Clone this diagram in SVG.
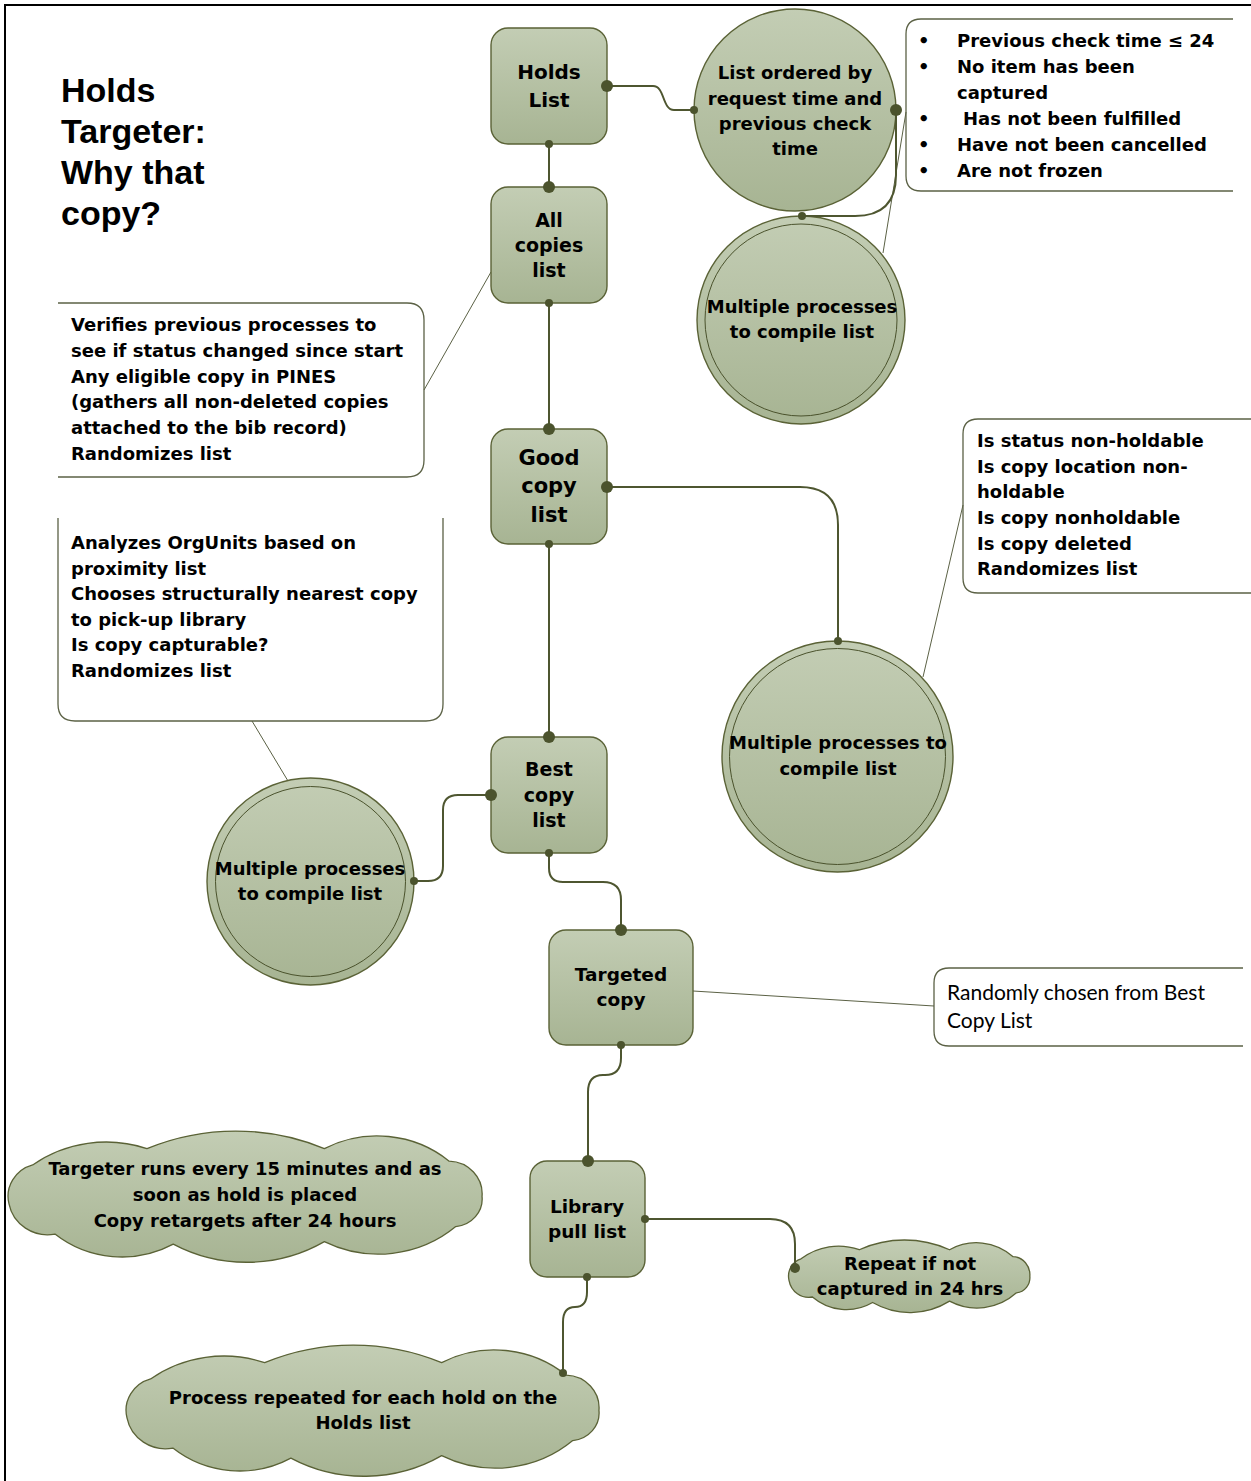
<svg xmlns="http://www.w3.org/2000/svg" xmlns:xlink="http://www.w3.org/1999/xlink" width="1251" height="1481" viewBox="0 0 1251 1481">
<defs>
<linearGradient id="g" x1="0" y1="0" x2="0" y2="1">
<stop offset="0" stop-color="#C3CDB4"/>
<stop offset="1" stop-color="#A7B493"/>
</linearGradient>
<path id="cloud" d="M0,58 A26,26 0 0 1 18,27 A95,95 0 0 1 105,14 A170,170 0 0 1 240,14 A85,85 0 0 1 335,24 A26,26 0 0 1 360,52 A22,22 0 0 1 340,76 A90,90 0 0 1 240,88 A115,115 0 0 1 125,90 A80,80 0 0 1 35,82 A30,30 0 0 1 0,58 Z" fill="url(#g)" stroke="#5A6236" stroke-width="1.3" vector-effect="non-scaling-stroke"/>
<style>
.box{fill:url(#g);stroke:#5A6236;stroke-width:1.4}
.ring{fill:none;stroke:#4A522C;stroke-width:1}
.t{font-family:"DejaVu Sans","Liberation Sans",sans-serif;font-weight:bold;fill:#000;text-anchor:middle}
.ti{font-family:"Liberation Sans",Arial,sans-serif;font-weight:bold;font-size:34px;fill:#000}
.c{font-family:"DejaVu Sans","Liberation Sans",sans-serif;font-weight:bold;font-size:18px;fill:#000}
.r{font-family:Lato,"Liberation Sans",sans-serif;font-size:21px;fill:#000}
.call{fill:none;stroke:#5B6145;stroke-width:1.3}
.ptr{fill:none;stroke:#5B6145;stroke-width:1}
.con{fill:none;stroke:#4E5630;stroke-width:2}
.dot{fill:#4B532D}
</style>
</defs>
<rect width="1251" height="1481" fill="#fff"/>
<rect x="5" y="5" width="1270" height="1500" fill="none" stroke="#000" stroke-width="2"/>

<g id="title">
<text class="ti" x="61" y="102">Holds</text>
<text class="ti" x="61" y="143">Targeter:</text>
<text class="ti" x="61" y="184">Why that</text>
<text class="ti" x="61" y="225">copy?</text>
</g>

<g id="callout-criteria">
<path class="call" d="M1233,19 H921 Q906,19 906,34 V176 Q906,191 921,191 H1233"/>
<text class="c" x="918" y="47">•</text><text class="c" x="957" y="47">Previous check time ≤ 24</text>
<text class="c" x="918" y="73">•</text><text class="c" x="957" y="73">No item has been</text>
<text class="c" x="957" y="99">captured</text>
<text class="c" x="918" y="125">•</text><text class="c" x="963" y="125">Has not been fulfilled</text>
<text class="c" x="918" y="151">•</text><text class="c" x="957" y="151">Have not been cancelled</text>
<text class="c" x="918" y="177">•</text><text class="c" x="957" y="177">Are not frozen</text>
</g>

<g id="callout-verifies">
<path class="call" d="M58,303 H407 Q424,303 424,320 V460 Q424,477 407,477 H58"/>
<text class="c" x="71" y="331">Verifies previous processes to</text>
<text class="c" x="71" y="357">see if status changed since start</text>
<text class="c" x="71" y="383">Any eligible copy in PINES</text>
<text class="c" x="71" y="408">(gathers all non-deleted copies</text>
<text class="c" x="71" y="434">attached to the bib record)</text>
<text class="c" x="71" y="460">Randomizes list</text>
</g>

<g id="callout-analyzes">
<path class="call" d="M58,518 V704 Q58,721 75,721 H426 Q443,721 443,704 V518"/>
<text class="c" x="71" y="549">Analyzes OrgUnits based on</text>
<text class="c" x="71" y="575">proximity list</text>
<text class="c" x="71" y="600">Chooses structurally nearest copy</text>
<text class="c" x="71" y="626">to pick-up library</text>
<text class="c" x="71" y="651">Is copy capturable?</text>
<text class="c" x="71" y="677">Randomizes list</text>
</g>

<g id="callout-status">
<path class="call" d="M1251,419 H978 Q963,419 963,434 V578 Q963,593 978,593 H1251"/>
<text class="c" x="977" y="447">Is status non-holdable</text>
<text class="c" x="977" y="473">Is copy location non-</text>
<text class="c" x="977" y="498">holdable</text>
<text class="c" x="977" y="524">Is copy nonholdable</text>
<text class="c" x="977" y="550">Is copy deleted</text>
<text class="c" x="977" y="575">Randomizes list</text>
</g>

<g id="callout-random">
<path class="call" d="M1243,968 H949 Q934,968 934,983 V1031 Q934,1046 949,1046 H1243"/>
<text class="r" x="947" y="1000">Randomly chosen from Best</text>
<text class="r" x="947" y="1028">Copy List</text>
</g>

<g id="pointers">
<line class="ptr" x1="906" y1="112" x2="883" y2="253"/>
<line class="ptr" x1="424" y1="390" x2="491" y2="272"/>
<line class="ptr" x1="963" y1="505" x2="923" y2="677"/>
<line class="ptr" x1="252" y1="721" x2="288" y2="781"/>
<line class="ptr" x1="693" y1="991" x2="934" y2="1006"/>
</g>

<g id="node-holds-list">
<rect class="box" x="491" y="28" width="116" height="116" rx="17"/>
<text class="t" style="font-size:20px" x="549" y="79">Holds</text>
<text class="t" style="font-size:20px" x="549" y="107">List</text>
</g>

<g id="node-ordered">
<circle class="box" cx="795" cy="110" r="101"/>
<text class="t" style="font-size:18px" x="795" y="79">List ordered by</text>
<text class="t" style="font-size:18px" x="795" y="104.5">request time and</text>
<text class="t" style="font-size:18px" x="795" y="130">previous check</text>
<text class="t" style="font-size:18px" x="795" y="155">time</text>
</g>

<g id="node-multi-1">
<circle class="box" cx="801" cy="320" r="104"/>
<circle class="ring" cx="801" cy="320" r="96"/>
<text class="t" style="font-size:18px" x="802" y="313">Multiple processes</text>
<text class="t" style="font-size:18px" x="802" y="338">to compile list</text>
</g>

<g id="node-all-copies">
<rect class="box" x="491" y="187" width="116" height="116" rx="17"/>
<text class="t" style="font-size:19px" x="549" y="227">All</text>
<text class="t" style="font-size:19px" x="549" y="252">copies</text>
<text class="t" style="font-size:19px" x="549" y="277">list</text>
</g>

<g id="node-good-copy">
<rect class="box" x="491" y="429" width="116" height="115" rx="17"/>
<text class="t" style="font-size:21px" x="549" y="465">Good</text>
<text class="t" style="font-size:21px" x="549" y="493">copy</text>
<text class="t" style="font-size:21px" x="549" y="522">list</text>
</g>

<g id="node-multi-2">
<circle class="box" cx="837.5" cy="756.5" r="115.5"/>
<circle class="ring" cx="837.5" cy="756.5" r="108"/>
<text class="t" style="font-size:18px" x="838" y="749">Multiple processes to</text>
<text class="t" style="font-size:18px" x="838" y="775">compile list</text>
</g>

<g id="node-best-copy">
<rect class="box" x="491" y="737" width="116" height="116" rx="17"/>
<text class="t" style="font-size:19px" x="549" y="776">Best</text>
<text class="t" style="font-size:19px" x="549" y="802">copy</text>
<text class="t" style="font-size:19px" x="549" y="827">list</text>
</g>

<g id="node-multi-3">
<circle class="box" cx="310.5" cy="881.5" r="103.5"/>
<circle class="ring" cx="310.5" cy="881.5" r="95"/>
<text class="t" style="font-size:18px" x="310" y="875">Multiple processes</text>
<text class="t" style="font-size:18px" x="310" y="900">to compile list</text>
</g>

<g id="node-targeted-copy">
<rect class="box" x="549" y="930" width="144" height="115" rx="17"/>
<text class="t" style="font-size:18.5px" x="621" y="981">Targeted</text>
<text class="t" style="font-size:18.5px" x="621" y="1006">copy</text>
</g>

<g id="node-library-pull">
<rect class="box" x="530" y="1161" width="115" height="116" rx="17"/>
<text class="t" style="font-size:18.5px" x="587" y="1213">Library</text>
<text class="t" style="font-size:18.5px" x="587" y="1238">pull list</text>
</g>

<g id="cloud-targeter">
<use xlink:href="#cloud" href="#cloud" transform="translate(9,1131) scale(1.314,1.257)"/>
<text class="t" style="font-size:18px" x="245" y="1175">Targeter runs every 15 minutes and as</text>
<text class="t" style="font-size:18px" x="245" y="1201">soon as hold is placed</text>
<text class="t" style="font-size:18px" x="245" y="1227">Copy retargets after 24 hours</text>
</g>

<g id="cloud-repeat">
<use xlink:href="#cloud" href="#cloud" transform="translate(789,1240) scale(0.669,0.695)"/>
<text class="t" style="font-size:18px" x="910" y="1270">Repeat if not</text>
<text class="t" style="font-size:18px" x="910" y="1295">captured in 24 hrs</text>
</g>

<g id="cloud-process">
<use xlink:href="#cloud" href="#cloud" transform="translate(127,1345) scale(1.311,1.257)"/>
<text class="t" style="font-size:18px" x="363" y="1404">Process repeated for each hold on the</text>
<text class="t" style="font-size:18px" x="363" y="1429">Holds list</text>
</g>

<g id="connectors">
<path class="con" d="M607,86 H653 C665,86 662,110 674,110 H694"/>
<path class="con" d="M549,144 V187"/>
<path class="con" d="M896,110 V175 Q896,216 855,216 H802"/>
<path class="con" d="M549,303 V429"/>
<path class="con" d="M607,487 H800 Q838,487 838,525 V641"/>
<path class="con" d="M549,544 V737"/>
<path class="con" d="M414,881 H428 Q443,881 443,866 V810 Q443,795 458,795 H491"/>
<path class="con" d="M549,853 V868 Q549,882 563,882 H603 Q621,882 621,900 V930"/>
<path class="con" d="M621,1045 V1058 Q621,1075 605,1075 H603 Q588,1075 588,1092 V1161"/>
<path class="con" d="M645,1219 H770 Q795,1219 795,1244 V1268"/>
<path class="con" d="M587,1277 V1292 Q587,1307 575,1307 Q563,1307 563,1322 V1373"/>
<circle class="dot" cx="607" cy="86" r="6"/>
<circle class="dot" cx="694" cy="110" r="4"/>
<circle class="dot" cx="549" cy="144" r="4"/>
<circle class="dot" cx="549" cy="187" r="6"/>
<circle class="dot" cx="896" cy="110" r="6"/>
<circle class="dot" cx="802" cy="216" r="4"/>
<circle class="dot" cx="549" cy="303" r="4"/>
<circle class="dot" cx="549" cy="429" r="6"/>
<circle class="dot" cx="607" cy="487" r="6"/>
<circle class="dot" cx="838" cy="641" r="4"/>
<circle class="dot" cx="549" cy="544" r="4"/>
<circle class="dot" cx="549" cy="737" r="6"/>
<circle class="dot" cx="414" cy="881" r="4"/>
<circle class="dot" cx="491" cy="795" r="6"/>
<circle class="dot" cx="549" cy="853" r="4"/>
<circle class="dot" cx="621" cy="930" r="6"/>
<circle class="dot" cx="621" cy="1045" r="4"/>
<circle class="dot" cx="588" cy="1161" r="6"/>
<circle class="dot" cx="645" cy="1219" r="4"/>
<circle class="dot" cx="795" cy="1268" r="5"/>
<circle class="dot" cx="587" cy="1277" r="4"/>
<circle class="dot" cx="563" cy="1373" r="4"/>
</g>
</svg>
